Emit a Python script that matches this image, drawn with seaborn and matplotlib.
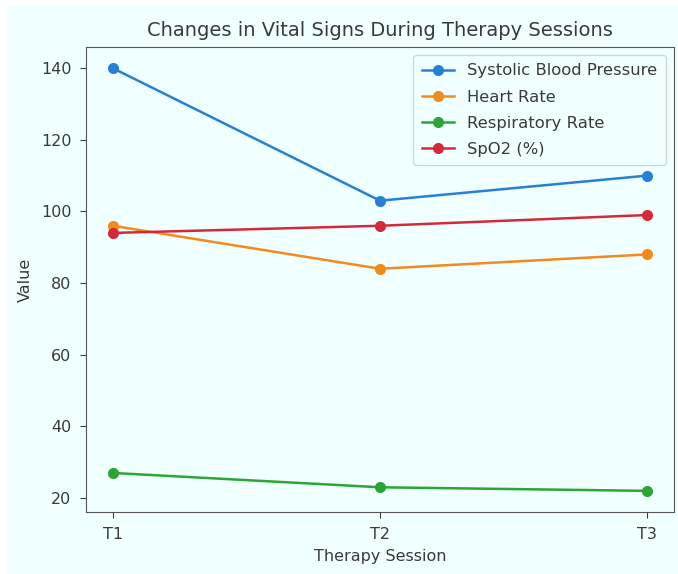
import matplotlib
matplotlib.use("Agg")
import matplotlib.pyplot as plt
import matplotlib.patches as mpatches
import seaborn as sns
import pandas as pd

sessions = ["T1", "T2", "T3"]
systolic = [140, 103, 110]
heart_rate = [96, 84, 88]
resp_rate = [27, 23, 22]
spo2 = [94, 96, 99]
series_names = ["Systolic Blood Pressure", "Heart Rate", "Respiratory Rate", "SpO2 (%)"]

df = pd.DataFrame({
    "Therapy Session": sessions * 4,
    "Value": systolic + heart_rate + resp_rate + spo2,
    "Vital": [n for n in series_names for _ in sessions],
})

bg = "#f0ffff"
fig = plt.figure(figsize=(6.78, 5.74), dpi=100, facecolor="white")
fig.patches.append(mpatches.Rectangle((7/678, 0), 1, 1 - 6/574, transform=fig.transFigure,
                                      facecolor=bg, edgecolor="none", zorder=-10))
ax = fig.add_axes([86/678, 1 - 512/574, (674-86)/678, (512-47)/574])
ax.set_facecolor(bg)

palette = ["#2680d6", "#f28a1c", "#2ca537", "#d42a38"]
for name, color in zip(series_names, palette):
    sub = df[df["Vital"] == name]
    sns.lineplot(data=sub, x="Therapy Session", y="Value", marker="o", markersize=8,
                 markeredgewidth=0, color=color, label=name, ax=ax, linewidth=1.8)

txt = "#3a3a3a"
ax.set_title("Changes in Vital Signs During Therapy Sessions", fontsize=14, color=txt, pad=8)
ax.set_xlabel("Therapy Session", fontsize=11.5, color=txt, labelpad=5)
ax.set_ylabel("Value", fontsize=11.5, color=txt, labelpad=6)
ax.tick_params(labelsize=11.5, colors=txt, length=4.5, pad=6)
for s in ax.spines.values():
    s.set_color("#555555")
leg = ax.legend(loc="upper right", fontsize=11.8, facecolor=bg, framealpha=0.8,
                labelspacing=0.68, borderpad=0.5, handlelength=2.0)
for t in leg.get_texts():
    t.set_color(txt)

fig.savefig("out.png", dpi=100, facecolor=fig.get_facecolor())
